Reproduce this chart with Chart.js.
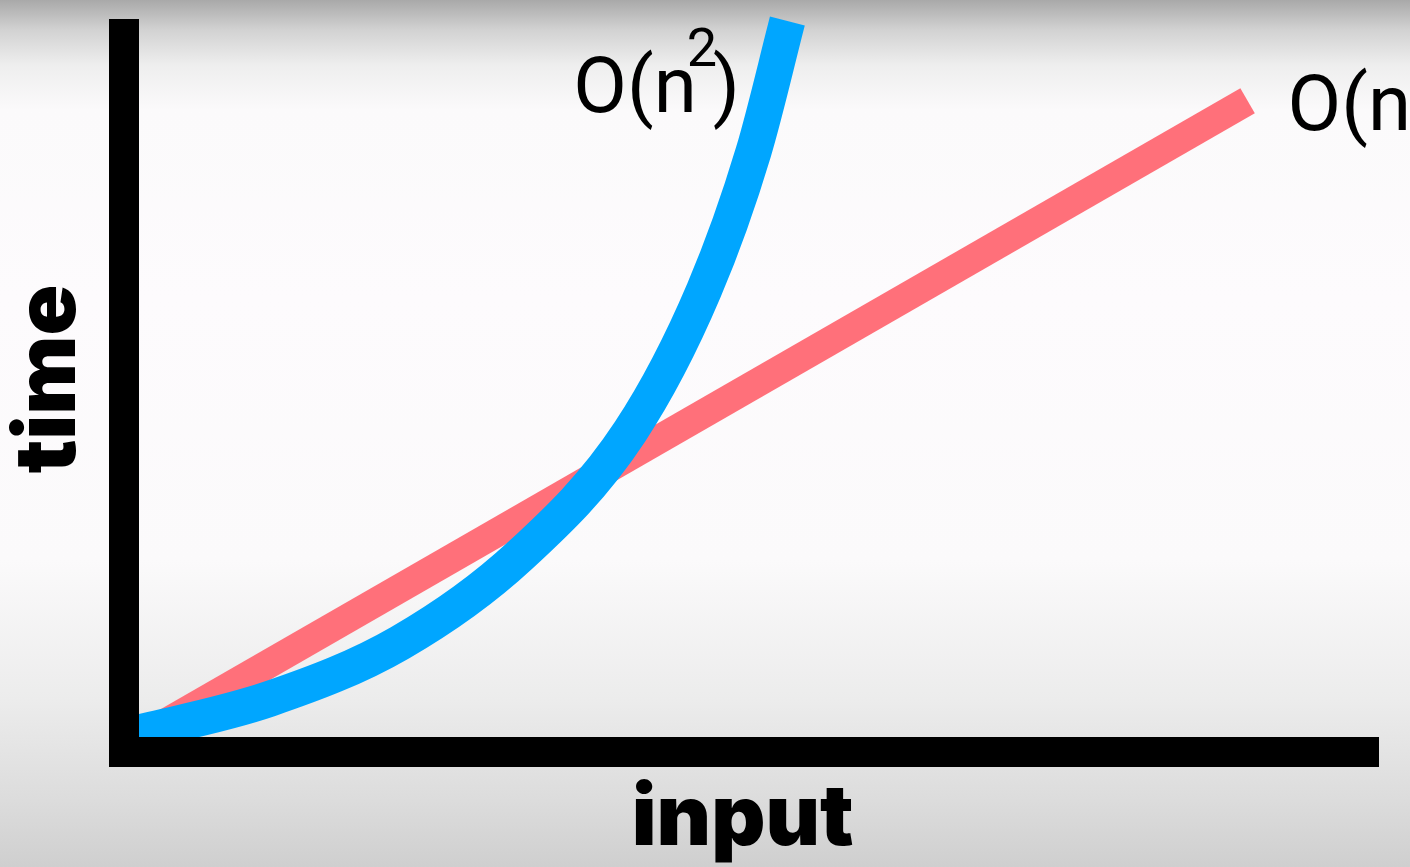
<!DOCTYPE html>
<html>
<head>
<meta charset="utf-8">
<script src="https://cdn.jsdelivr.net/npm/chart.js@4.4.1/dist/chart.umd.min.js"></script>
<style>
  html, body { margin: 0; padding: 0; }
  body {
    width: 1410px; height: 867px; overflow: hidden;
    background: linear-gradient(to bottom, #a9a9a9 0px, #d2d2d2 30px, #eeeeee 65px, #fbfafb 110px, #fdfbfd 300px, #fbfafb 560px, #ececec 700px, #dcdcdc 800px, #cfcfcf 867px);
  }
  #wrap { position: relative; width: 1410px; height: 867px; }
</style>
</head>
<body>
<div id="wrap"><canvas id="grafico"></canvas></div>
<script>
// O(n) - linha recta
const linearInput = [2.1, 89.6];
const linearTime = [2.8, 90.7];

// O(n^2) - curva
const quadInput = [0, 11.6, 22.0, 31.6, 40.35, 46.25, 50.2, 52.9];
const quadTime = [2.2, 7.4, 15.2, 27.4, 44.6, 64.3, 83.6, 101.8];

const xTitle = "input ";
const yTitle = " \u2009time";

function pontos(xs, ys) {
  return xs.map((x, i) => ({ x: x, y: ys[i] }));
}

// escreve O(n) e O(n²) junto ao fim de cada linha
const etiquetas = {
  id: "etiquetas",
  afterDatasetsDraw(chart) {
    const ctx = chart.ctx;
    ctx.save();
    ctx.fillStyle = "#000";
    ctx.textAlign = "left";
    ctx.textBaseline = "alphabetic";

    const blue = chart.getDatasetMeta(0).data;
    const bEnd = blue[blue.length - 1];
    const x0 = bEnd.x - 214;
    const y0 = bEnd.y + 91;
    ctx.font = "78px Roboto";
    ctx.fillText("O(n", x0, y0);
    const w = ctx.measureText("O(n").width;
    ctx.font = "54px Roboto";
    ctx.fillText("2", x0 + w - 10, y0 - 46);
    ctx.font = "78px Roboto";
    ctx.fillText(")", x0 + w + 16, y0);

    const red = chart.getDatasetMeta(1).data;
    const rEnd = red[red.length - 1];
    ctx.fillText("O(n)", rEnd.x + 40, rEnd.y + 29);
    ctx.restore();
  }
};

new Chart(document.getElementById("grafico"), {
  type: "line",
  data: {
    datasets: [
      {
        label: "O(n²)",
        data: pontos(quadInput, quadTime),
        borderColor: "rgb(0,166,255)",
        borderWidth: 36,
        borderJoinStyle: "round",
        cubicInterpolationMode: "monotone",
        pointRadius: 0,
        clip: false
      },
      {
        label: "O(n)",
        data: pontos(linearInput, linearTime),
        borderColor: "rgb(255,112,122)",
        borderWidth: 29,
        pointRadius: 0,
        clip: false
      }
    ]
  },
  options: {
    responsive: true,
    maintainAspectRatio: false,
    animation: false,
    layout: { padding: { left: 0, right: 32, top: 34, bottom: 0 } },
    plugins: {
      legend: { display: false },
      tooltip: { enabled: false }
    },
    scales: {
      x: {
        type: "linear",
        min: 0,
        max: 100,
        z: 1,
        grid: { display: false, drawTicks: false },
        ticks: { display: false },
        border: { display: true, color: "#000", width: 30, z: 1 },
        title: {
          display: true,
          text: xTitle,
          color: "#000",
          font: { family: "Inter", size: 84, weight: "900", lineHeight: 1 },
          padding: { top: 26, bottom: 5 }
        }
      },
      y: {
        type: "linear",
        min: 0,
        max: 100,
        z: 1,
        grid: { display: false, drawTicks: false },
        ticks: { display: false },
        border: { display: true, color: "#000", width: 30, z: 1 },
        title: {
          display: true,
          text: yTitle,
          color: "#000",
          font: { family: "Inter", size: 84, weight: "900", lineHeight: 1 },
          padding: { top: 8, bottom: 32 }
        }
      }
    }
  },
  plugins: [etiquetas]
});
</script>
</body>
</html>
